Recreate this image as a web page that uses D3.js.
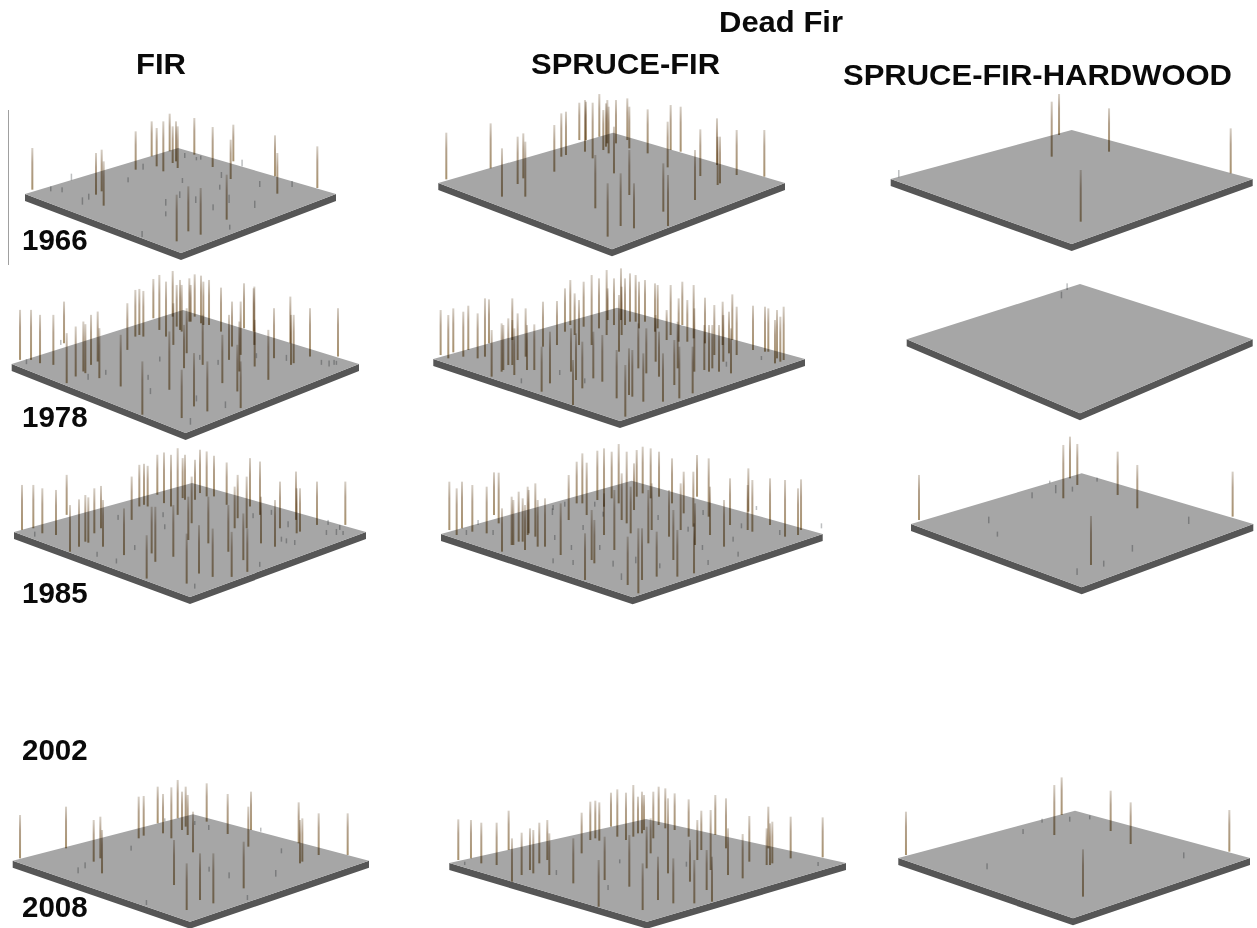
<!DOCTYPE html>
<html><head><meta charset="utf-8">
<style>html,body{margin:0;padding:0;background:#fff}svg{display:block}text{font-family:"Liberation Sans",Arial,sans-serif;font-weight:bold;fill:#0a0a0a}</style>
<script src="https://cdn.jsdelivr.net/npm/d3@7/dist/d3.min.js"></script>
</head><body><div id="chart"></div>
<script>
// Each stem: [east, depth, height] in plot units
const fir1966=[[22,125,125],[213,140,125],[230,130,125],[236,173,133],[332,65,115],[380,25,105],[395,55,115],[415,70,150],[434,10,113],[443,45,110],[453,40,120],[458,60,125],[508,20,110],[563,57,120],[625,40,110],[617,93,118],[750,85,123],[757,137,122],[877,120,125],[455,280,140],[490,250,135],[527,260,140],[605,215,135],[140,97,20],[78,130,15],[112,133,15],[173,170,22],[192,155,18],[310,103,15],[355,65,18],[480,30,15],[528,35,12],[515,37,10],[652,55,20],[590,90,18],[585,125,15],[465,150,20],[423,173,20],[423,205,15],[473,105,15],[513,165,20],[565,187,18],[690,180,22],[705,117,18],[802,117,18],[352,267,18],[615,245,15],[613,165,25]];
const spruceFir1966=[[24,140,140],[157,107,135],[191,192,145],[238,154,142],[255,137,135],[261,192,165],[348,117,140],[369,72,130],[383,67,130],[423,22,112],[440,57,155],[443,22,115],[463,77,167],[471,227,160],[483,12,128],[495,52,120],[503,42,130],[507,32,130],[511,62,140],[527,122,140],[533,32,130],[567,22,125],[573,47,125],[573,187,135],[547,280,158],[508,312,160],[587,287,135],[628,62,132],[688,104,137],[697,52,135],[727,57,135],[675,237,145],[689,280,153],[770,202,150],[786,130,140],[836,97,140],[838,157,145],[845,152,140],[895,127,135],[978,132,140]];
const hardwood1966=[[25,142,22],[483,80,165],[505,15,123],[655,65,130],[1020,130,135],[570,275,155]];
const fir1978=[[25,150,150],[58,150,150],[85,160,145],[125,165,150],[157,100,125],[165,220,150],[192,200,150],[215,185,150],[221,190,147],[238,165,150],[258,155,150],[263,205,150],[327,230,155],[347,120,140],[371,80,140],[383,75,138],[395,80,137],[392,315,160],[425,25,118],[443,60,165],[463,80,165],[473,240,175],[483,20,137],[485,105,125],[495,50,125],[505,60,150],[510,65,140],[517,175,130],[525,130,135],[533,35,130],[537,35,110],[549,20,127],[510,325,145],[547,290,160],[568,40,143],[573,165,150],[575,45,130],[587,305,150],[592,45,135],[628,65,132],[632,220,145],[652,150,135],[661,110,135],[677,245,140],[687,295,140],[687,135,160],[683,185,150],[697,55,135],[728,105,175],[729,170,140],[726,65,130],[770,210,150],[787,145,150],[836,100,140],[838,165,150],[846,160,145],[895,140,145],[979,140,145],[45,163,15],[148,105,15],[230,210,18],[283,195,15],[410,210,15],[417,253,18],[445,155,15],[565,150,15],[555,275,18],[537,345,20],[642,295,20],[620,165,15],[735,145,15],[825,153,18],[930,165,15],[953,170,18],[968,165,15],[975,165,12]];
const spruceFir1978=[[22,142,135],[45,152,130],[60,134,132],[90,147,135],[105,127,133],[133,152,135],[155,147,175],[167,107,132],[175,207,140],[205,192,145],[210,187,135],[225,172,140],[237,97,125],[237,172,135],[243,202,140],[253,157,140],[277,147,145],[281,187,135],[303,187,137],[325,252,135],[329,117,135],[350,227,155],[371,112,132],[395,72,130],[411,52,135],[413,192,130],[419,292,135],[424,82,125],[428,217,140],[437,112,135],[447,242,140],[451,57,135],[475,112,210],[480,212,140],[497,62,150],[507,222,140],[520,82,195],[523,37,95],[542,52,140],[550,272,145],[557,132,170],[563,37,155],[565,82,145],[575,52,140],[576,327,155],[587,262,140],[590,42,145],[597,267,140],[607,42,140],[615,182,135],[617,62,140],[630,282,145],[635,42,125],[639,197,135],[665,72,145],[667,162,140],[673,62,130],[677,207,135],[689,282,145],[700,97,90],[712,82,150],[723,232,135],[736,102,130],[738,272,155],[747,52,130],[733,182,140],[762,102,125],[778,257,140],[781,92,160],[783,192,190],[815,107,137],[813,187,135],[827,192,140],[837,182,130],[843,142,150],[857,192,140],[868,112,130],[870,162,140],[887,137,125],[893,197,135],[897,97,137],[910,142,145],[959,127,133],[995,132,135],[1005,132,130],[1025,167,130],[1031,152,145],[1041,162,135],[1051,157,160],[265,227,15],[380,202,15],[455,227,15],[880,177,15],[985,157,12]];
const hardwood1978=[[482,18,20],[465,43,20]];
const fir1985=[[24,140,135],[58,135,130],[85,150,135],[126,155,135],[158,95,120],[168,205,140],[195,190,142],[214,175,140],[223,178,136],[241,150,135],[261,135,127],[267,190,140],[330,215,140],[353,110,130],[376,70,125],[390,65,123],[401,70,122],[398,285,130],[413,210,140],[424,235,165],[430,35,120],[450,60,152],[471,70,155],[478,220,155],[491,95,200],[506,45,120],[513,50,135],[518,300,150],[523,170,130],[533,120,140],[543,50,120],[558,30,130],[555,270,145],[578,40,135],[583,180,140],[600,40,122],[596,280,145],[638,65,127],[643,205,140],[653,280,135],[662,135,125],[671,105,130],[688,230,140],[698,135,155],[700,265,130],[708,70,145],[738,95,160],[741,180,140],[783,190,140],[798,135,140],[846,110,145],[848,150,135],[858,145,130],[909,125,130],[994,125,130],[63,160,15],[313,110,15],[448,102,15],[453,138,15],[363,200,15],[250,220,15],[308,240,15],[803,175,15],[818,180,15],[843,185,15],[823,132,18],[943,125,15],[938,155,15],[968,155,18],[978,140,15],[988,155,12],[543,315,15],[738,250,15],[773,95,15],[718,105,15]];
const spruceFir1985=[[25,148,145],[47,163,140],[63,143,140],[94,153,140],[137,158,140],[159,103,128],[173,128,152],[183,213,130],[212,193,145],[217,193,135],[233,183,150],[245,183,130],[252,208,135],[260,163,145],[263,158,130],[283,168,160],[290,198,140],[312,198,145],[359,223,155],[383,118,135],[407,68,125],[424,68,150],[437,103,157],[432,298,140],[452,238,150],[460,248,130],[469,58,148],[489,78,175],[489,163,125],[512,53,140],[520,208,180],[533,68,178],[542,118,140],[557,128,215],[560,313,145],[569,158,140],[579,88,140],[587,48,140],[592,338,195],[603,298,155],[605,38,140],[622,188,160],[629,53,150],[632,148,140],[647,288,135],[654,48,135],[684,168,140],[693,68,135],[697,238,150],[709,288,140],[719,148,140],[728,98,125],[757,138,165],[759,278,150],[762,193,125],[768,48,125],[803,108,175],[807,163,145],[849,198,140],[867,133,140],[920,148,135],[922,93,130],[934,153,155],[987,133,140],[1032,168,170],[1071,163,140],[1080,148,152],[77,163,15],[112,133,15],[157,163,15],[335,103,20],[342,178,15],[337,248,15],[392,208,15],[397,253,15],[427,148,15],[477,208,15],[517,258,18],[542,298,20],[585,248,20],[652,118,15],[657,263,15],[742,153,15],[785,208,15],[802,253,15],[877,183,15],[892,228,15],[902,143,15],[947,88,12],[1017,163,15],[1142,143,15],[787,103,15],[337,88,15],[372,78,15],[462,78,15],[487,108,15]];
const hardwood1985=[[24,140,135],[457,75,160],[477,15,125],[499,35,123],[620,65,130],[679,105,130],[965,130,135],[540,275,147],[234,150,20],[260,190,15],[364,75,18],[435,60,25],[485,55,15],[559,25,12],[834,152,22],[665,235,20],[579,280,18],[499,305,20],[417,30,8]];
const fir2008=[[22,132,130],[160,102,125],[243,142,125],[263,132,125],[268,177,130],[378,72,125],[393,64,119],[435,27,110],[451,57,118],[476,72,153],[484,212,135],[495,12,115],[508,47,115],[519,37,120],[525,62,120],[541,114,122],[522,287,140],[562,257,140],[582,22,115],[602,267,150],[645,59,120],[693,222,140],[707,97,120],[715,47,115],[858,87,123],[862,147,130],[869,142,130],[918,122,125],[1005,122,125],[197,177,18],[218,162,18],[356,109,15],[547,32,12],[590,172,15],[589,47,15],[650,192,18],[745,52,12],[807,117,15],[790,187,20],[705,257,15],[402,272,15],[457,22,10]];
const spruceFir2008=[[27,123,122],[65,118,115],[96,133,122],[142,138,127],[178,93,118],[188,188,130],[217,168,127],[242,153,125],[252,163,130],[270,133,122],[294,123,120],[300,168,125],[372,193,135],[397,103,122],[423,63,115],[438,58,113],[450,65,115],[448,263,140],[466,183,130],[485,23,102],[504,53,142],[530,63,142],[540,203,155],[552,53,155],[566,43,110],[578,43,125],[584,33,105],[592,148,125],[580,273,140],[604,103,105],[612,58,140],[628,18,115],[626,243,130],[648,28,120],[656,163,225],[672,253,135],[676,33,110],[718,53,112],[722,188,125],[735,253,130],[744,123,120],[756,93,118],[772,213,120],[784,153,180],[788,248,135],[798,48,120],[830,88,150],[836,168,140],[880,178,133],[900,128,137],[952,138,110],[957,88,125],[962,138,125],[969,133,125],[1024,118,125],[1120,115,120],[47,138,10],[322,168,15],[477,213,15],[512,133,12],[712,143,15],[1107,141,12]];
const hardwood2008=[[23,133,130],[468,73,150],[490,13,113],[637,61,121],[697,100,125],[993,123,125],[554,258,142],[267,176,18],[375,70,15],[432,36,12],[515,33,15],[575,26,12],[857,143,18]];

const columnTitles=["FIR","SPRUCE-FIR","SPRUCE-FIR-HARDWOOD"];
const yearLabels=["1966","1978","1985","2002","2008"];
const mainTitle="Dead Fir";

// layout only: data, plot extents, plate corners in the page
const panels=[
 {data:fir1966,east:933,depth:315,lx:25,rx:336,ty:148,by:253,tx:178,bx:181,sy:194},
 {data:spruceFir1966,east:1040,depth:350,lx:438.3,rx:785,ty:132.7,by:249.3,tx:613,bx:612,sy:183},
 {data:hardwood1966,east:1086,depth:342,lx:890.7,rx:1252.7,ty:130,by:244,tx:1071.7,bx:1071.7,sy:179},
 {data:fir1978,east:1042,depth:370,lx:11.7,rx:359,ty:310,by:433,tx:183,bx:185.6,sy:364},
 {data:spruceFir1978,east:1115,depth:340,lx:433.3,rx:805,ty:307.7,by:421,tx:617,bx:620,sy:359},
 {data:hardwood1978,east:1038,depth:388,lx:906.7,rx:1252.7,ty:284,by:413.3,tx:1080,bx:1080,sy:339.3},
 {data:fir1985,east:1056,depth:340,lx:14,rx:366,ty:483,by:597,tx:192,bx:190,sy:532},
 {data:spruceFir1985,east:1145,depth:350,lx:441,rx:822.7,ty:480.7,by:597.3,tx:631.7,bx:632.7,sy:534},
 {data:hardwood1985,east:1027,depth:342,lx:911,rx:1253.3,ty:473.3,by:587.3,tx:1081.7,bx:1081.7,sy:524},
 {data:fir2008,east:1069,depth:322,lx:12.7,rx:369,ty:814.3,by:921.7,tx:193,bx:190,sy:860.7},
 {data:spruceFir2008,east:1190,depth:308,lx:449.3,rx:846,ty:819,by:921.7,tx:646,bx:647,sy:863},
 {data:hardwood2008,east:1055,depth:323,lx:898.3,rx:1250,ty:810.7,by:918.3,tx:1075,bx:1073,sy:858}
];
const thickness=7;

const svg=d3.select("#chart").append("svg").attr("width",1257).attr("height",928);
const defs=svg.append("defs");
const soft=defs.append("filter").attr("id","soft").attr("x","-50%").attr("y","-5%").attr("width","200%").attr("height","110%");
soft.append("feGaussianBlur").attr("stdDeviation",0.4);
const grad=defs.append("linearGradient").attr("id","stem").attr("x1",0).attr("y1",0).attr("x2",0).attr("y2",1);
[[0,"#d6cfc6"],[0.35,"#b3a18c"],[1,"#a8926f"]].forEach(([o,c])=>grad.append("stop").attr("offset",o).attr("stop-color",c));

svg.append("line").attr("x1",8.5).attr("x2",8.5).attr("y1",110).attr("y2",265).attr("stroke","#a0a0a0").attr("stroke-width",1);

const heightScale=d3.scaleLinear().domain([0,300]).range([0,100]);
panels.forEach(p=>{
  const x=d3.scaleLinear().domain([0,p.east]).range([p.lx,p.rx]);
  const y=d3.scaleLinear().domain([0,p.depth]).range([p.ty,p.by]);
  const g=svg.append("g");
  const line=d3.line();
  g.append("path").attr("fill","#565656").attr("d",line([[p.lx,p.sy],[p.bx,p.by],[p.rx,p.sy],[p.rx,p.sy+thickness],[p.bx,p.by+thickness],[p.lx,p.sy+thickness]])+"Z");
  g.append("path").attr("fill","#a6a6a6").attr("d",line([[p.lx,p.sy],[p.tx,p.ty],[p.rx,p.sy],[p.bx,p.by]])+"Z");
  const sorted=p.data.slice().sort((a,b)=>a[1]-b[1]);
  g.append("g").attr("filter","url(#soft)").style("mix-blend-mode","multiply").selectAll("rect").data(sorted).join("rect")
    .attr("x",d=>x(d[0])-1)
    .attr("width",d=>d[2]<40?1.5:2)
    .attr("y",d=>y(d[1])-heightScale(d[2]))
    .attr("height",d=>heightScale(d[2]))
    .attr("fill",d=>d[2]<40?"#bdbfc0":"url(#stem)")
    .style("mix-blend-mode","multiply");
});

svg.append("text").attr("x",719).attr("y",32).attr("font-size",29).attr("textLength",124).attr("lengthAdjust","spacingAndGlyphs").text(mainTitle);
const titlePos=[[136,74,50],[531,74,189],[843,84.5,389]];
svg.selectAll("text.col").data(columnTitles).join("text").attr("class","col")
  .attr("x",(d,i)=>titlePos[i][0]).attr("y",(d,i)=>titlePos[i][1])
  .attr("font-size",30).attr("textLength",(d,i)=>titlePos[i][2]).attr("lengthAdjust","spacingAndGlyphs").text(d=>d);
const yearY=[250,427,603,760,917];
svg.selectAll("text.yr").data(yearLabels).join("text").attr("class","yr")
  .attr("x",22).attr("y",(d,i)=>yearY[i]).attr("font-size",29.5).text(d=>d);
</script></body></html>
